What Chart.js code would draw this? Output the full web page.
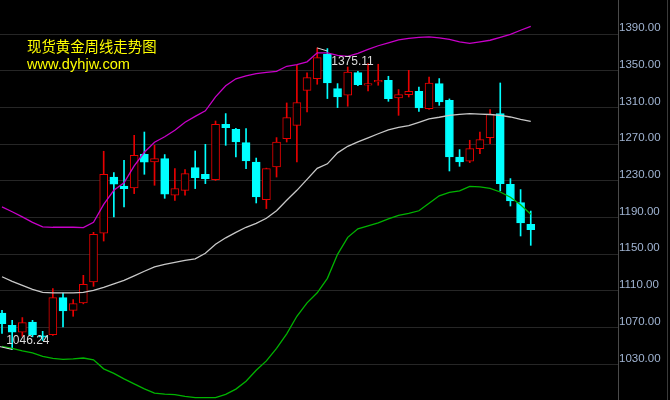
<!DOCTYPE html>
<html><head><meta charset="utf-8">
<script src="https://cdn.jsdelivr.net/npm/chart.js@4/dist/chart.umd.min.js"></script>
<style>
html,body{margin:0;padding:0;background:#000;}
#wrap{position:relative;width:670px;height:400px;background:#000;overflow:hidden;}
#c{position:absolute;left:0;top:0;width:670px;height:400px;}
.t{position:absolute;left:27px;color:#ffff00;line-height:1;white-space:nowrap;}
#t1{top:38.5px;font-family:"Noto Sans CJK SC","Noto Sans",sans-serif;font-size:14.4px;}
#t2{top:57px;font-family:"Liberation Sans",Arial,sans-serif;font-size:14.6px;}
</style></head><body>
<div id="wrap">
<canvas id="c" width="670" height="400"></canvas>
<div class="t" id="t1">现货黄金周线走势图</div>
<div class="t" id="t2">www.dyhjw.com</div>
</div>
<script>
// weekly candles (index 0 = leftmost week)
const openP  = [1086,1072.6,1065.2,1076.2,1061,1062.4,1102.8,1088.9,1096.9,1119.8,1173.2,1234.3,1224.5,1222.3,1259.1,1250.7,1254.4,1214.4,1219.8,1244.6,1237.3,1231.5,1291.8,1286.4,1271.9,1250.7,1209.7,1245.2,1276.2,1290.7,1328.9,1341.7,1368.2,1330.8,1323.5,1348.2,1334.4,1338,1339.8,1320.5,1324.2,1327.8,1309,1336.2,1318,1256.2,1251.5,1265.3,1277.3,1303.5,1226.4,1206.4,1182.7];
const highP  = [1089,1078,1081,1078,1066,1112.6,1107.8,1100.6,1127.1,1174,1262.4,1239.1,1252.5,1279.8,1283.4,1268.9,1258.8,1243.5,1242.4,1262.7,1270,1295.4,1303.5,1287.5,1287.1,1255,1244,1277.3,1315.1,1356.2,1348,1375.11,1374.4,1336.2,1354.3,1349.5,1358,1357.3,1344.2,1329.7,1350.7,1332.5,1343.4,1341.7,1319.5,1264.2,1274.4,1283.4,1307.9,1336.9,1232.6,1220.6,1197.2];
const lowP   = [1063.8,1046.24,1060.6,1060,1056,1061.5,1070.7,1082.4,1096,1115.1,1164.5,1190.7,1201.6,1216.2,1237.3,1225.3,1211.1,1208.9,1214.4,1221.7,1227.1,1230.5,1268.9,1256.2,1243.5,1206,1199.9,1234.3,1272.5,1250.7,1305.2,1335.5,1319.9,1310,1311.5,1334,1328.1,1334.4,1316.9,1301.6,1321.6,1306,1308,1312.5,1240.9,1246,1250,1259.9,1270.8,1219.1,1202.7,1170,1159.8];
const closeP = [1074.4,1065.2,1075.5,1062.4,1059.5,1102.8,1088.2,1096.2,1117.3,1171.8,1237.3,1226.4,1221.7,1258,1250.4,1254.4,1215.5,1221.7,1238,1233.7,1232.6,1291.8,1288.2,1272.5,1251.8,1212.5,1243.5,1272.5,1299.1,1315.5,1342.8,1364.6,1336.9,1321.6,1348.9,1335.1,1336.2,1339.8,1319.9,1324.2,1327.8,1309.6,1336.9,1316.1,1256.2,1250.7,1265.3,1275.1,1302.7,1227.1,1208.2,1184.2,1177];
// Bollinger bands
const bollUpper  = [1201.8,1196.4,1190.9,1184.9,1180,1179.5,1179.5,1179.5,1179.1,1184.9,1204.5,1219.8,1228,1246.5,1261.3,1272.2,1278.2,1285.3,1294,1300.5,1306.5,1321.8,1333.8,1341.5,1344.7,1347.1,1348.5,1349.6,1355.1,1356.9,1360,1369.8,1369.8,1367.1,1366,1369.3,1373.6,1377.5,1380.7,1384,1385.6,1386.7,1387.1,1386.2,1384.5,1381.8,1380.2,1381.8,1383.5,1386.7,1390,1394.4,1398.7];
const bollMiddle = [1125.5,1120.5,1116.2,1111.8,1108.5,1108,1108,1108,1108.5,1110.7,1114,1117.8,1121.6,1126.5,1131.5,1136.4,1139.1,1141.3,1143.5,1145.1,1151.1,1160.9,1168,1174,1179.5,1183.8,1189.3,1197.5,1208.9,1219.8,1231.8,1243.8,1248.7,1260.7,1267.8,1272.7,1277.1,1281.5,1285.8,1288.5,1290.4,1294,1297.8,1299.5,1301.6,1302.7,1303.5,1303,1302.5,1301.6,1299.8,1297.3,1295.1];
const bollLower  = [1049.6,1047.5,1044.7,1042.6,1038.7,1036.5,1035.5,1036,1036.9,1034.9,1025.1,1020.2,1014.2,1008.7,1003.3,998.6,997.6,997,995.1,993.7,993.7,993.7,997.3,1003,1011.5,1023.5,1033.8,1047.5,1063.3,1082.4,1097.1,1108,1123.8,1150,1168.5,1177.8,1181.1,1184.4,1188.7,1192.5,1194.7,1197.5,1205.6,1213.8,1217.6,1219.3,1224.2,1223.6,1222,1218,1212.2,1204,1193.6];
// price axis tick labels
const yTickValues = [1030,1070,1110,1150,1190,1230,1270,1310,1350,1390];
const yearSeparator = [4];

const UP='#e80000', DOWN='#00ffff';
const isUp = closeP.map((c,i)=>c>=openP[i]);
const idx = closeP.map((_,i)=>i);

const wicks = idx.map(i=>({x:i,y:[lowP[i],highP[i]]}));
const bodies = idx.map(i=>({x:i,y:[openP[i],closeP[i]]}));
const line = arr => arr.map((v,i)=>({x:i,y:v}));

const hiIdx = highP.indexOf(Math.max(...highP));
const loIdx = lowP.indexOf(Math.min(...lowP));

const markPlugin = {
  id:'marks',
  afterDatasetsDraw(chart){
    const {ctx, scales:{x,y}} = chart;
    ctx.save();
    ctx.strokeStyle='#dcdcdc'; ctx.fillStyle='#dcdcdc'; ctx.lineWidth=1;
    ctx.font='12px "Liberation Sans", Arial, sans-serif';
    ctx.textBaseline='middle'; ctx.textAlign='left';
    const hx=x.getPixelForValue(hiIdx), hy=y.getPixelForValue(highP[hiIdx]);
    ctx.beginPath(); ctx.moveTo(hx,hy); ctx.lineTo(hx+10,hy+3); ctx.stroke();
    ctx.fillText(highP[hiIdx].toFixed(2), hx+14, hy+14);
    const lx=x.getPixelForValue(loIdx), ly=y.getPixelForValue(lowP[loIdx]);
    ctx.beginPath(); ctx.moveTo(lx,ly); ctx.lineTo(lx-13,ly-3); ctx.stroke();
    ctx.fillText(lowP[loIdx].toFixed(2), lx-6, ly-8.5);
    ctx.restore();
  },
  afterDraw(chart){
    const ctx=chart.ctx;
    ctx.save();
    ctx.strokeStyle='#3a3a3a'; ctx.lineWidth=1;
    ctx.beginPath(); ctx.moveTo(667.5,0); ctx.lineTo(667.5,400); ctx.stroke();
    ctx.restore();
  }
};

new Chart(document.getElementById('c'), {
  type:'bar',
  data:{
    datasets:[
      {type:'line', data:line(bollUpper), borderColor:'#c800c8', borderWidth:1.3, pointRadius:0, tension:0, order:0},
      {type:'line', data:line(bollMiddle), borderColor:'#c8c8c8', borderWidth:1.3, pointRadius:0, tension:0, order:0},
      {type:'line', data:line(bollLower), borderColor:'#00b400', borderWidth:1.3, pointRadius:0, tension:0, order:0},
      {type:'bar', data:bodies, barThickness:8, grouped:false, borderSkipped:false, borderWidth:1,
        backgroundColor:isUp.map(u=>u?'#000000':DOWN), borderColor:isUp.map(u=>u?UP:DOWN), order:1},
      {type:'bar', data:wicks, barThickness:1, grouped:false, borderWidth:0,
        backgroundColor:isUp.map(u=>u?UP:DOWN), order:2}
    ]
  },
  options:{
    responsive:false, animation:false,
    layout:{padding:0},
    plugins:{legend:{display:false}, tooltip:{enabled:false}},
    scales:{
      x:{type:'linear', min:-0.197, max:60.58, offset:false,
        afterBuildTicks:s=>{s.ticks=yearSeparator.map(v=>({value:v}));},
        afterFit:s=>{s.height=0; s.paddingLeft=0; s.paddingRight=0;},
        ticks:{display:false}, grid:{color:'#262626', drawTicks:false}, border:{display:false}},
      y:{type:'linear', position:'right', min:991.1, max:1427.4,
        afterBuildTicks:s=>{s.ticks=yTickValues.map(v=>({value:v}));},
        afterFit:s=>{s.width=52; s.paddingTop=0; s.paddingBottom=0;},
        ticks:{color:'#a0b4d2', font:{family:'"Liberation Sans", Arial, sans-serif', size:11.5}, padding:1, labelOffset:-6,
          callback:v=>Number(v).toFixed(2)},
        grid:{color:'#262626', drawTicks:false},
        border:{color:'#4a4a4a', width:1}}
    }
  },
  plugins:[markPlugin]
});
</script>
</body></html>
